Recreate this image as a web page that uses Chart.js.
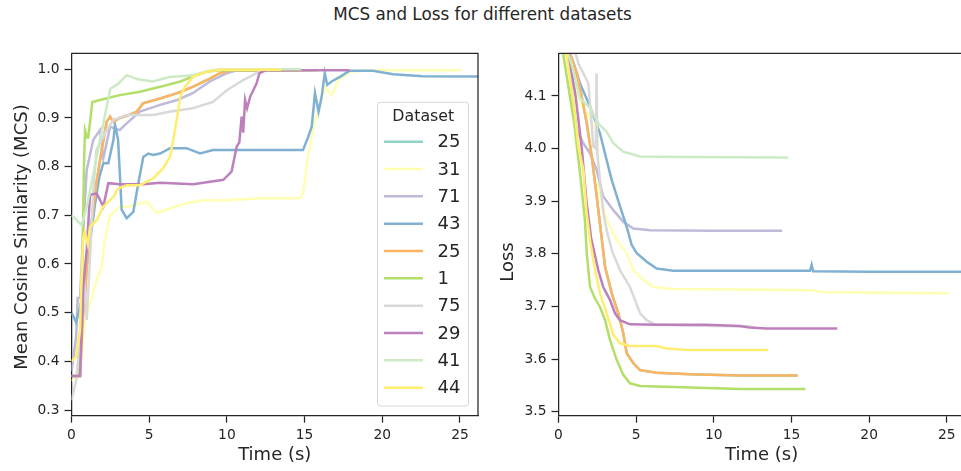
<!DOCTYPE html>
<html>
<head>
<meta charset="utf-8">
<script src="https://cdn.jsdelivr.net/npm/chart.js@4/dist/chart.umd.min.js"></script>
<style>
  body { margin: 0; width: 961px; height: 471px; overflow: hidden; position: relative; background: #fff; font-family: "DejaVu Sans", sans-serif; }
  #title { position: absolute; left: 0; top: 4px; width: 965px; text-align: center; font-size: 16.8px; color: #262626; }
  canvas { position: absolute; top: 0; }
  #mcsChart { left: 0; }
  #lossChart { left: 485px; }
</style>
</head>
<body>
<div id="title">MCS and Loss for different datasets</div>
<canvas id="mcsChart" width="485" height="471"></canvas>
<canvas id="lossChart" width="481" height="471"></canvas>
<script>
// --------------------
// DATA
// --------------------
const datasetNames = ["25", "31", "71", "43", "25", "1", "75", "29", "41", "44"];
const lineColors = ["#8dd3c7", "#ffffb3", "#bebada", "#80b1d3", "#fdb462", "#b3de69", "#d9d9d9", "#bc80bd", "#ccebc5", "#ffed6f"];

const timeTicks = [0, 5, 10, 15, 20, 25];
const mcsTicks = [0.3, 0.4, 0.5, 0.6, 0.7, 0.8, 0.9, 1.0];
const lossTicks = [3.5, 3.6, 3.7, 3.8, 3.9, 4.0, 4.1];

// MCS curves, [time, value]
const mcs25 = [[0,0.37],[0.55,0.37],[0.75,0.50],[0.9,0.55],[1.1,0.65],[1.35,0.70],[1.6,0.766],[1.94,0.834],[2.26,0.892],[2.48,0.903],[2.7,0.892],[3.1,0.90],[3.6,0.905],[4.2,0.913],[4.6,0.93],[5.7,0.94],[6.8,0.951],[7.8,0.964],[8.9,0.981],[9.55,0.992],[10.2,0.998],[15.4,0.998]];
const mcs31 = [[0,0.36],[0.5,0.37],[0.87,0.485],[1.2,0.52],[1.62,0.567],[1.94,0.594],[2.16,0.653],[2.48,0.70],[3.1,0.718],[3.76,0.718],[4.84,0.728],[5.48,0.705],[6.34,0.714],[7.4,0.725],[8.5,0.731],[10,0.731],[12.1,0.735],[14.7,0.735],[14.9,0.745],[15.24,0.824],[15.46,0.862],[15.67,0.896],[16,0.923],[16.3,0.964],[16.74,0.947],[17.2,0.978],[17.9,0.995],[19,0.998],[25.1,0.998]];
const mcs71 = [[0,0.38],[0.3,0.45],[0.4,0.53],[0.55,0.53],[0.8,0.70],[0.98,0.793],[1.4,0.855],[1.83,0.875],[2.05,0.817],[2.48,0.882],[3.1,0.875],[3.55,0.889],[4.4,0.913],[5.7,0.927],[6.8,0.937],[7.8,0.951],[8.9,0.975],[10,0.992],[10.5,0.997],[14.4,0.997]];
const mcs43 = [[0,0.50],[0.3,0.48],[0.6,0.52],[1.0,0.60],[1.5,0.72],[1.8,0.78],[2.05,0.807],[2.37,0.807],[2.7,0.855],[2.8,0.886],[3.0,0.855],[3.23,0.711],[3.55,0.694],[3.98,0.707],[4.3,0.766],[4.62,0.82],[4.94,0.827],[5.26,0.824],[5.7,0.827],[6.34,0.838],[7.4,0.838],[8.27,0.827],[9.1,0.834],[12.1,0.834],[14.9,0.834],[15.24,0.862],[15.46,0.882],[15.67,0.951],[15.9,0.913],[16.1,0.944],[16.3,0.992],[16.46,0.968],[16.74,0.975],[17.3,0.985],[17.9,0.997],[19.4,0.997],[20.7,0.99],[22.6,0.986],[26.2,0.985]];
const mcs1 = [[0,0.37],[0.5,0.37],[0.7,0.60],[0.8,0.80],[0.87,0.875],[1.0,0.86],[1.08,0.86],[1.34,0.933],[1.83,0.937],[3.1,0.947],[4.4,0.954],[5.7,0.964],[7.0,0.975],[7.8,0.985],[8.7,0.995],[9.5,0.998],[15.9,0.998]];
const mcs75 = [[0,0.32],[0.3,0.36],[0.55,0.45],[0.75,0.60],[0.98,0.485],[1.2,0.62],[1.4,0.75],[1.6,0.834],[2.26,0.875],[2.7,0.896],[3.55,0.906],[5.26,0.906],[6.3,0.913],[7.8,0.92],[9.1,0.933],[10,0.957],[11.05,0.978],[11.9,0.992],[12.5,0.999],[13.4,0.999]];
const mcs29 = [[0,0.37],[0.55,0.37],[0.76,0.553],[0.98,0.63],[1.19,0.742],[1.62,0.745],[2.05,0.718],[2.37,0.766],[3.1,0.764],[4.62,0.764],[5.7,0.767],[7.84,0.764],[9.77,0.773],[10.3,0.79],[10.63,0.841],[10.8,0.85],[10.95,0.903],[11.05,0.87],[11.17,0.937],[11.3,0.92],[11.5,0.944],[11.7,0.957],[11.9,0.97],[12.1,0.992],[12.5,0.998],[17.9,0.998]];
const mcs41 = [[0,0.70],[0.12,0.697],[0.65,0.68],[1.0,0.72],[1.5,0.80],[1.8,0.85],[2.05,0.889],[2.5,0.96],[3.0,0.97],[3.55,0.988],[4.2,0.98],[5.25,0.975],[6.3,0.984],[7.8,0.988],[8.9,0.997],[9.5,1.0],[14.8,1.0]];
const mcs44 = [[0,0.40],[0.3,0.41],[0.55,0.464],[0.65,0.58],[0.76,0.656],[0.85,0.665],[1.05,0.64],[1.19,0.677],[1.62,0.69],[2.05,0.718],[2.7,0.738],[3.0,0.755],[3.55,0.762],[4.4,0.762],[5.26,0.776],[5.9,0.797],[6.34,0.82],[6.66,0.875],[7.0,0.944],[7.3,0.964],[7.84,0.985],[8.7,0.995],[9.5,0.999],[13.5,0.999]];

// Loss curves, [time, value]
const loss25 = [[0,4.4],[0.74,4.18],[1.17,4.143],[1.49,4.099],[1.82,4.048],[2.14,3.985],[2.46,3.909],[2.78,3.83],[3.0,3.775],[3.43,3.725],[3.85,3.687],[4.17,3.649],[4.39,3.611],[4.82,3.592],[5.25,3.579],[6.32,3.574],[8.47,3.571],[11.7,3.569],[15.4,3.569]];
const loss31 = [[0,4.4],[0.5,4.18],[1.0,4.12],[1.5,4.08],[2.0,4.06],[2.5,4.03],[2.6,3.92],[3.1,3.864],[3.75,3.826],[4.39,3.801],[4.82,3.769],[5.46,3.75],[6.1,3.737],[7.4,3.733],[11.7,3.732],[16.2,3.731],[17.2,3.727],[25.1,3.725]];
const loss71 = [[0,4.4],[0.6,4.18],[0.9,4.10],[1.17,4.035],[1.6,4.01],[2.03,3.991],[2.46,3.959],[2.88,3.909],[3.53,3.883],[4.17,3.861],[4.82,3.848],[5.9,3.845],[10,3.844],[14.4,3.844]];
const loss43 = [[0,4.4],[0.6,4.19],[1.0,4.16],[1.38,4.124],[2.03,4.08],[2.67,4.029],[3.1,3.978],[3.43,3.94],[3.96,3.89],[4.39,3.851],[4.71,3.817],[5.04,3.801],[5.68,3.785],[6.32,3.772],[7.4,3.768],[16.2,3.768],[16.3,3.779],[16.4,3.767],[20,3.766],[26.2,3.766]];
const loss1 = [[0,4.4],[0.3,4.18],[1.0,4.05],[1.4,3.95],[1.7,3.864],[1.82,3.801],[2.03,3.737],[2.35,3.715],[2.67,3.699],[3.0,3.674],[3.32,3.636],[3.75,3.598],[4.17,3.57],[4.6,3.554],[5.25,3.549],[8.47,3.546],[11.7,3.543],[15.9,3.543]];
const loss75 = [[0,4.4],[1.0,4.19],[1.3,4.16],[1.6,4.143],[1.92,4.124],[2.1,4.06],[2.24,4.004],[2.4,4.0],[2.45,4.143],[2.5,3.99],[2.88,3.88],[3.1,3.845],[3.43,3.807],[3.96,3.769],[4.6,3.737],[4.93,3.712],[5.25,3.687],[5.68,3.674],[6.2,3.666],[8,3.664],[12.3,3.662],[12.6,3.66]];
const loss29 = [[0,4.4],[0.7,4.17],[1.1,4.10],[1.5,4.00],[1.8,3.90],[2.1,3.83],[2.56,3.769],[2.88,3.737],[3.32,3.712],[3.64,3.687],[3.96,3.674],[4.6,3.666],[6.3,3.665],[9.5,3.665],[11.7,3.663],[12.3,3.66],[13.4,3.658],[17.95,3.658]];
const loss41 = [[0,4.4],[0.5,4.19],[0.85,4.16],[1.38,4.096],[2.03,4.077],[2.56,4.048],[3.1,4.032],[3.53,4.01],[4.17,3.994],[5.25,3.985],[8,3.984],[14.8,3.983]];
const loss44 = [[0,4.4],[0.5,4.18],[1.0,4.08],[1.3,4.0],[1.6,3.96],[1.8,3.88],[2.03,3.826],[2.35,3.769],[2.67,3.725],[3.1,3.687],[3.53,3.646],[3.96,3.63],[4.6,3.625],[6.3,3.625],[6.97,3.62],[8.47,3.617],[13.5,3.617]];

// the two "25" entries share the same run
const mcsSeries = [mcs25, mcs31, mcs71, mcs43, mcs25, mcs1, mcs75, mcs29, mcs41, mcs44];
const lossSeries = [loss25, loss31, loss71, loss43, loss25, loss1, loss75, loss29, loss41, loss44];

const INK = "#262626";
const FONT = "DejaVu Sans";

// --------------------
// HELPERS
// --------------------
function makeDatasets(series) {
  // later series on top, like matplotlib
  return series.map((pts, i) => ({
    label: datasetNames[i],
    data: pts.map(p => ({ x: p[0], y: p[1] })),
    borderColor: lineColors[i],
    borderWidth: 2.5,
    pointRadius: 0,
    tension: 0,
    fill: false,
    clip: 0,
    order: series.length - i
  }));
}

function axisPlugin(xTitle, yTitle, yTitleX, yTitleY) {
  return {
    id: "axisDecor",
    afterDraw(chart) {
      const ctx = chart.ctx;
      const a = chart.chartArea;
      ctx.save();
      ctx.strokeStyle = INK;
      ctx.lineWidth = 1.25;
      ctx.beginPath();
      ctx.moveTo(a.left, a.top);
      ctx.lineTo(a.right, a.top);
      ctx.lineTo(a.right, a.bottom);
      ctx.stroke();

      ctx.fillStyle = INK;
      ctx.font = "18px '" + FONT + "'";
      ctx.textAlign = "center";
      ctx.textBaseline = "middle";
      ctx.fillText(xTitle, (a.left + a.right) / 2, 455);

      ctx.translate(yTitleX, yTitleY);
      ctx.rotate(-Math.PI / 2);
      ctx.fillText(yTitle, 0, 0);
      ctx.restore();
    }
  };
}

const legendPlugin = {
  id: "datasetLegend",
  afterDraw(chart) {
    const ctx = chart.ctx;
    ctx.save();
    const x0 = 377.5, y0 = 102.3, w = 91, h = 303.7, r = 3;
    ctx.beginPath();
    ctx.moveTo(x0 + r, y0);
    ctx.arcTo(x0 + w, y0, x0 + w, y0 + h, r);
    ctx.arcTo(x0 + w, y0 + h, x0, y0 + h, r);
    ctx.arcTo(x0, y0 + h, x0, y0, r);
    ctx.arcTo(x0, y0, x0 + w, y0, r);
    ctx.closePath();
    ctx.fillStyle = "rgba(255,255,255,0.8)";
    ctx.fill();
    ctx.strokeStyle = "#d6d6d6";
    ctx.lineWidth = 1;
    ctx.stroke();

    ctx.fillStyle = INK;
    ctx.textBaseline = "middle";
    ctx.textAlign = "center";
    ctx.font = "15.8px '" + FONT + "'";
    ctx.fillText("Dataset", 423.3, 116.5);

    ctx.textAlign = "left";
    ctx.font = "18px '" + FONT + "'";
    datasetNames.forEach((name, i) => {
      const y = 141.7 + i * 27.33;
      ctx.strokeStyle = lineColors[i];
      ctx.lineWidth = 2.5;
      ctx.beginPath();
      ctx.moveTo(384, y);
      ctx.lineTo(423, y);
      ctx.stroke();
      ctx.fillText(name, 437.5, y + 1);
    });
    ctx.restore();
  }
};

function makeOptions(yMin, yMax, yTicks, yWidth, padRight, yDecimals) {
  return {
    responsive: false,
    animation: false,
    devicePixelRatio: 1,
    layout: { padding: { top: 53.3, right: padRight, bottom: 0, left: 0 } },
    plugins: { legend: { display: false }, tooltip: { enabled: false } },
    scales: {
      x: {
        type: "linear",
        min: 0,
        max: 26.16,
        afterFit: s => { s.height = 55.3; },
        afterBuildTicks: s => { s.ticks = timeTicks.map(v => ({ value: v })); },
        grid: { drawOnChartArea: false, drawTicks: true, tickLength: 7, tickWidth: 1.25, tickColor: INK },
        border: { display: true, color: INK, width: 1.25 },
        ticks: { color: INK, font: { family: FONT, size: 13.8 }, padding: 4, maxRotation: 0, callback: v => String(v) }
      },
      y: {
        type: "linear",
        min: yMin,
        max: yMax,
        afterFit: s => { s.width = yWidth; },
        afterBuildTicks: s => { s.ticks = yTicks.map(v => ({ value: v })); },
        grid: { drawOnChartArea: false, drawTicks: true, tickLength: 7, tickWidth: 1.25, tickColor: INK },
        border: { display: true, color: INK, width: 1.25 },
        ticks: { color: INK, font: { family: FONT, size: 13.8 }, padding: 5, callback: v => Number(v).toFixed(yDecimals) }
      }
    }
  };
}

// --------------------
// MCS CHART
// --------------------
new Chart(document.getElementById("mcsChart").getContext("2d"), {
  type: "line",
  data: { datasets: makeDatasets(mcsSeries) },
  options: makeOptions(0.2883, 1.0329, mcsTicks, 71.5, 7, 1),
  plugins: [axisPlugin("Time (s)", "Mean Cosine Similarity (MCS)", 22, 237), legendPlugin]
});

// --------------------
// LOSS CHART
// --------------------
new Chart(document.getElementById("lossChart").getContext("2d"), {
  type: "line",
  data: { datasets: makeDatasets(lossSeries) },
  options: makeOptions(3.4924, 4.181, lossTicks, 73.5, 1.2, 1),
  plugins: [axisPlugin("Time (s)", "Loss", 23, 262)]
});
</script>
</body>
</html>
